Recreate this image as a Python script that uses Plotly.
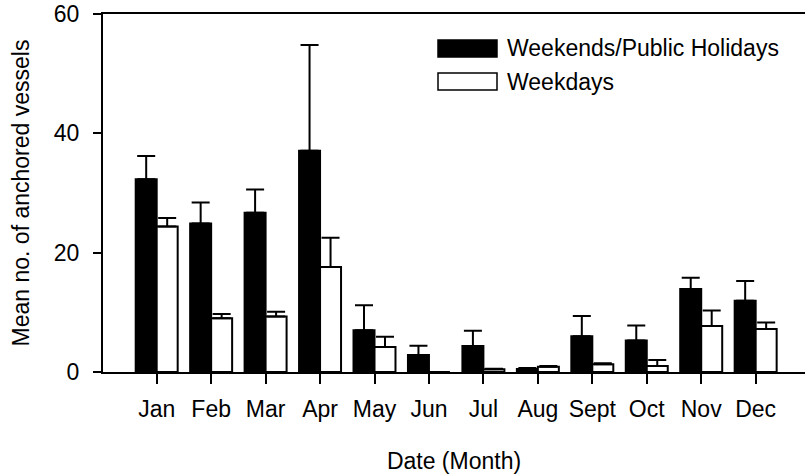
import plotly.graph_objects as go

months = ["Jan", "Feb", "Mar", "Apr", "May", "Jun", "Jul", "Aug", "Sept", "Oct", "Nov", "Dec"]
weekend_mean = [32.3, 24.9, 26.7, 37.1, 7.0, 2.85, 4.35, 0.5, 6.0, 5.3, 13.9, 11.95]
weekend_err = [3.9, 3.5, 3.9, 17.7, 4.2, 1.55, 2.55, 0.15, 3.4, 2.5, 1.9, 3.3]
weekday_mean = [24.4, 9.0, 9.3, 17.6, 4.2, 0.0, 0.45, 0.9, 1.3, 1.0, 7.7, 7.2]
weekday_err = [1.4, 0.7, 0.8, 4.9, 1.7, 0.0, 0.1, 0.1, 0.15, 1.0, 2.6, 1.1]
y_ticks = [0, 20, 40, 60]
legend_labels = ["Weekends/Public Holidays", "Weekdays"]

FONT = "Liberation Sans, Arial, sans-serif"
FS = 23
W, H = 805, 474
L, R, T, B = 103, 0, 14, 102
pw, ph = W - L - R, H - T - B

x = list(range(len(months)))

fig = go.Figure()
fig.add_trace(go.Bar(
    x=x, y=weekend_mean, name=legend_labels[0],
    marker=dict(color="black", line=dict(color="black", width=2)),
    error_y=dict(type="data", symmetric=False, array=weekend_err,
                 arrayminus=[0] * len(months), color="black", thickness=2, width=9),
    showlegend=False,
))
fig.add_trace(go.Bar(
    x=x, y=weekday_mean, name=legend_labels[1],
    marker=dict(color="white", line=dict(color="black", width=2)),
    error_y=dict(type="data", symmetric=False, array=weekday_err,
                 arrayminus=[0] * len(months), color="black", thickness=2, width=9),
    showlegend=False,
))

def px2paper(px, py):
    return (px - L) / pw, (H - B - py) / ph

# manual legend
for i, (fill, lab) in enumerate(zip(["black", "white"], legend_labels)):
    top = 40 + i * 33
    x0, y1 = px2paper(438, top)
    x1, y0 = px2paper(497, top + 17)
    fig.add_shape(type="rect", xref="paper", yref="paper", x0=x0, x1=x1, y0=y0, y1=y1,
                  fillcolor=fill, line=dict(color="black", width=1.5))
    tx, ty = px2paper(505, top + 8.5)
    fig.add_annotation(xref="paper", yref="paper", x=tx, y=ty, text=lab, showarrow=False,
                       xanchor="left", yanchor="middle", font=dict(size=FS, color="black", family=FONT))

fig.update_layout(
    width=W, height=H,
    margin=dict(l=L, r=R, t=T, b=B, pad=0),
    paper_bgcolor="white", plot_bgcolor="white",
    barmode="group", bargap=0.229, bargroupgap=0.0,
    font=dict(family=FONT, size=FS, color="black"),
    xaxis=dict(
        range=[-0.986, 11.906], tickmode="array", tickvals=x, ticktext=months,
        showline=True, linecolor="black", linewidth=2, mirror=True,
        ticks="outside", ticklen=10, tickwidth=2, tickcolor="black",
        showgrid=False, zeroline=False,
        title=dict(text="Date (Month)", standoff=32, font=dict(size=FS)),
        tickfont=dict(size=FS), ticklabelstandoff=5,
    ),
    yaxis=dict(
        range=[0, 60], tickmode="array", tickvals=y_ticks,
        showline=True, linecolor="black", linewidth=2, mirror=False,
        ticks="outside", ticklen=8, tickwidth=2, tickcolor="black",
        showgrid=False, zeroline=False,
        title=dict(text="Mean no. of anchored vessels", standoff=18, font=dict(size=FS)),
        tickfont=dict(size=FS), ticklabelstandoff=9,
    ),
)

fig.write_html("out.html")
